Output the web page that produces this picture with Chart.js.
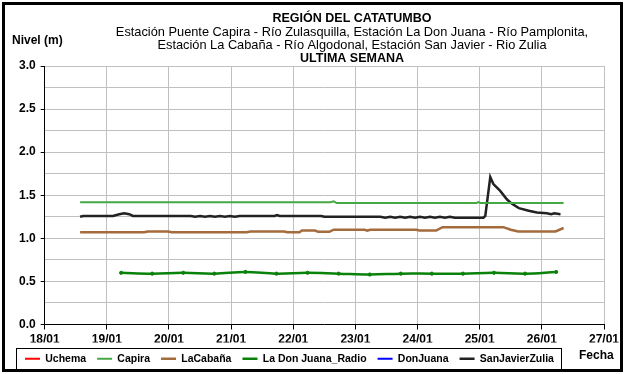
<!DOCTYPE html>
<html lang="es">
<head>
<meta charset="UTF-8">
<title>Región del Catatumbo - Niveles</title>
<script src="https://cdn.jsdelivr.net/npm/chart.js"></script>
<style>
  html, body { margin: 0; padding: 0; background: #fff; }
  canvas { display: block; }
</style>
</head>
<body>
<canvas id="niveles" width="625" height="374"></canvas>
<script>
// encabezado del gráfico
const titulo = [
  'REGIÓN DEL CATATUMBO',
  'Estación Puente Capira - Río Zulasquilla, Estación La Don Juana - Río Pamplonita,',
  'Estación La Cabaña - Río Algodonal, Estación San Javier - Rio Zulia',
  'ULTIMA SEMANA'
];

// estaciones (en el orden de la leyenda)
const estaciones = ['Uchema', 'Capira', 'LaCabaña', 'La Don Juana_Radio', 'DonJuana', 'SanJavierZulia'];

// tiempo en días de enero, nivel en metros
const capiraDia   = [18.57, 22.60, 22.65, 22.70, 24.95, 24.98, 25.01, 26.35];
const capiraNivel = [1.42, 1.42, 1.43, 1.41, 1.41, 1.42, 1.41, 1.41];

const cabanaDia   = [18.57, 19.60, 19.66, 19.98, 20.05, 21.25, 21.31, 21.85, 21.91, 22.10, 22.14, 22.35, 22.40,
                     22.58, 22.65, 23.15, 23.19, 23.24, 23.98, 24.03, 24.30, 24.40, 25.38, 25.50, 25.62, 26.22, 26.35];
const cabanaNivel = [1.07, 1.07, 1.08, 1.08, 1.07, 1.07, 1.08, 1.08, 1.07, 1.07, 1.09, 1.09, 1.075,
                     1.075, 1.10, 1.10, 1.09, 1.10, 1.10, 1.09, 1.09, 1.13, 1.13, 1.10, 1.08, 1.08, 1.12];

const radioDia   = [19.23, 19.73, 20.23, 20.73, 21.23, 21.73, 22.23, 22.73, 23.23, 23.73, 24.23, 24.73, 25.23, 25.73, 26.23];
const radioNivel = [0.60, 0.59, 0.60, 0.59, 0.61, 0.59, 0.60, 0.59, 0.58, 0.59, 0.59, 0.59, 0.60, 0.59, 0.61];

const zuliaDia   = [18.57, 18.62, 19.10, 19.20, 19.28, 19.36, 19.42, 20.35, 20.42, 20.50, 20.58, 20.66, 20.74, 20.82,
                    20.90, 20.98, 21.06, 21.14, 21.22, 21.70, 21.74, 21.78, 22.45, 22.50, 22.56, 23.40, 23.48, 23.56,
                    23.64, 23.72, 23.80, 23.88, 23.96, 24.04, 24.12, 24.20, 24.28, 24.36, 24.44, 24.52, 24.60, 25.06,
                    25.09, 25.17, 25.22, 25.33, 25.44, 25.52, 25.63, 25.79, 25.92, 26.08, 26.15, 26.20, 26.30];
const zuliaNivel = [1.25, 1.26, 1.26, 1.28, 1.29, 1.28, 1.26, 1.26, 1.25, 1.26, 1.25, 1.26, 1.25, 1.26,
                    1.25, 1.26, 1.25, 1.26, 1.26, 1.26, 1.27, 1.26, 1.26, 1.25, 1.25, 1.25, 1.24, 1.25,
                    1.24, 1.25, 1.24, 1.25, 1.24, 1.25, 1.24, 1.25, 1.24, 1.25, 1.24, 1.25, 1.24, 1.24,
                    1.26, 1.71, 1.63, 1.55, 1.45, 1.40, 1.35, 1.32, 1.30, 1.29, 1.28, 1.29, 1.28];

// rango de ejes
const diaMin = 18, diaMax = 27;
const nivelMin = 0, nivelMax = 3;

const pares = (xs, ys) => xs.map((x, i) => ({ x: x, y: ys[i] }));
const fuente = '"Liberation Sans", Arial, sans-serif';

// encabezado, títulos de ejes, recuadro de la leyenda y marco exterior
const marco = {
  id: 'marco',
  afterDraw(chart) {
    const ctx = chart.ctx;
    ctx.save();
    ctx.fillStyle = '#000';
    ctx.textAlign = 'center';
    ctx.textBaseline = 'middle';
    titulo.forEach((t, i) => {
      const negrita = (i === 0 || i === titulo.length - 1);
      ctx.font = negrita ? 'bold 12.5px ' + fuente : '12.8px ' + fuente;
      ctx.fillText(t, 352, 19 + i * 13.3);
    });

    ctx.font = 'bold 12px ' + fuente;
    ctx.textAlign = 'left';
    ctx.fillText('Nivel (m)', 12, 41);
    ctx.fillText('Fecha', 579, 356);

    const cajas = chart.legend.legendHitBoxes;
    if (cajas.length) {
      const izq = Math.min(...cajas.map(b => b.left)) - 9;
      const der = Math.max(...cajas.map(b => b.left + b.width)) + 7;
      const arriba = cajas[0].top - 6;
      ctx.strokeStyle = '#000';
      ctx.lineWidth = 1;
      ctx.strokeRect(Math.round(izq) + 0.5, Math.round(arriba) + 0.5, Math.round(der - izq), 21);
    }

    ctx.lineWidth = 3;
    ctx.strokeStyle = '#000';
    ctx.strokeRect(3.5, 3.5, 618, 367);
    ctx.restore();
  }
};

// la muestra de la leyenda toma el grosor y color de la línea de cada serie
const etiquetasLeyenda = chart =>
  Chart.defaults.plugins.legend.labels.generateLabels(chart).map(l => {
    const ds = chart.data.datasets[l.datasetIndex];
    return Object.assign(l, { lineWidth: ds.borderWidth, strokeStyle: ds.borderColor });
  });

const ctx = document.getElementById('niveles').getContext('2d');
new Chart(ctx, {
  type: 'line',
  data: {
    datasets: [
      { label: estaciones[0], data: [], borderColor: '#ff0000', backgroundColor: '#ff0000', borderWidth: 2, pointRadius: 0 },
      { label: estaciones[1], data: pares(capiraDia, capiraNivel), borderColor: '#44a844', backgroundColor: '#44a844', borderWidth: 2, pointRadius: 0 },
      { label: estaciones[2], data: pares(cabanaDia, cabanaNivel), borderColor: '#a46b3c', backgroundColor: '#a46b3c', borderWidth: 2.5, pointRadius: 0 },
      { label: estaciones[3], data: pares(radioDia, radioNivel), borderColor: '#0a820a', backgroundColor: '#0a820a', borderWidth: 2.5,
        pointRadius: 1.6, pointBorderColor: '#0a820a', pointBorderWidth: 1, tension: 0.4 },
      { label: estaciones[4], data: [], borderColor: '#0000ff', backgroundColor: '#0000ff', borderWidth: 2, pointRadius: 0 },
      { label: estaciones[5], data: pares(zuliaDia, zuliaNivel), borderColor: '#222222', backgroundColor: '#222222', borderWidth: 2.5, pointRadius: 0 }
    ]
  },
  options: {
    responsive: false,
    animation: false,
    devicePixelRatio: 1,
    layout: { padding: { left: 14, right: 21, top: 66, bottom: 0 } },
    plugins: {
      title: { display: false },
      tooltip: { enabled: false },
      legend: {
        position: 'bottom',
        align: 'start',
        labels: {
          usePointStyle: true,
          pointStyle: 'line',
          pointStyleWidth: 15,
          padding: 11,
          color: '#000',
          font: { family: fuente, size: 10.5, weight: 'bold' },
          generateLabels: etiquetasLeyenda
        }
      }
    },
    scales: {
      x: {
        type: 'linear',
        min: diaMin,
        max: diaMax,
        afterFit: s => { s.height = 18; },
        ticks: {
          stepSize: 1,
          padding: 3,
          color: '#000',
          font: { family: fuente, size: 12, weight: 'bold' },
          callback: v => String(v).padStart(2, '0') + '/01'
        },
        grid: { color: '#c0c0c0', tickColor: '#000', tickLength: 5 },
        border: { color: '#000', width: 1 }
      },
      y: {
        min: nivelMin,
        max: nivelMax,
        ticks: {
          stepSize: 0.25,
          autoSkip: false,
          padding: 5,
          color: '#000',
          font: { family: fuente, size: 12, weight: 'bold' },
          callback: v => (Math.round(v * 100) % 50 === 0 ? v.toFixed(1) : '')
        },
        grid: {
          color: '#c0c0c0',
          tickLength: 4,
          tickColor: c => (c.tick && Math.round(c.tick.value * 100) % 50 === 0 ? '#000' : 'rgba(0,0,0,0)')
        },
        border: { color: '#000', width: 1 }
      }
    }
  },
  plugins: [marco]
});
</script>
</body>
</html>
